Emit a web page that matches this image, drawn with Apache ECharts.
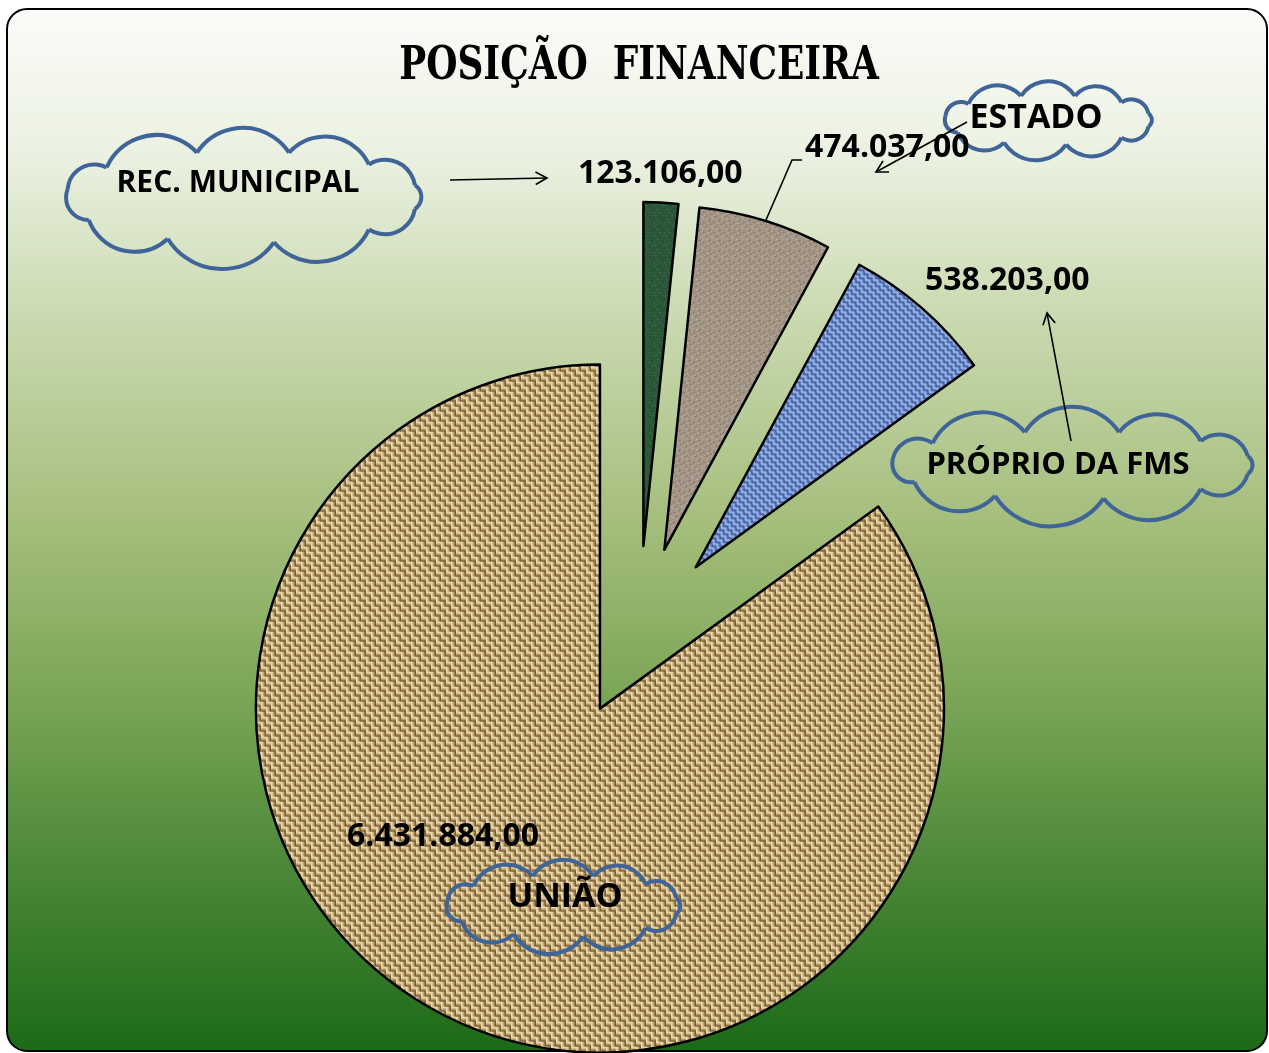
<!DOCTYPE html>
<html>
<head>
<meta charset="utf-8">
<title>Posição Financeira</title>
<script src="https://cdn.jsdelivr.net/npm/echarts@6/dist/echarts.min.js"></script>
<style>
  html, body { margin: 0; padding: 0; background: #fff; }
  #chart { width: 1269px; height: 1053px; }
</style>
</head>
<body>
<div id="chart"></div>
<script>
// dados do gráfico (ordem horária a partir do topo)
const categorias = ['REC. MUNICIPAL', 'ESTADO', 'PRÓPRIO DA FMS', 'UNIÃO'];
const valores = [123106, 474037, 538203, 6431884];
const titulo = 'POSIÇÃO  FINANCEIRA';

// formata no padrão brasileiro: 6.431.884,00
function formatBR(v) {
  const inteiro = String(Math.floor(v)).replace(/\B(?=(\d{3})+(?!\d))/g, '.');
  return inteiro + ',00';
}

// texturas das fatias (desenhadas num canvas pequeno e repetidas)
function tile(size, draw) {
  const c = document.createElement('canvas');
  c.width = c.height = size;
  draw(c.getContext('2d'));
  return c;
}

// trama de tecido: células alternando fios horizontais e verticais
function weave(size, cols) {
  return tile(size * 2, (ctx) => {
    for (let i = 0; i < 2; i++) {
      for (let j = 0; j < 2; j++) {
        const x0 = i * size, y0 = j * size;
        const horiz = (i + j) % 2 === 0;
        for (let k = 0; k < size; k++) {
          ctx.fillStyle = cols[k];
          if (horiz) ctx.fillRect(x0, y0 + k, size, 1);
          else ctx.fillRect(x0 + k, y0, 1, size);
        }
      }
    }
  });
}

function speckle(base, dots) {
  return tile(10, (ctx) => {
    ctx.fillStyle = base;
    ctx.fillRect(0, 0, 10, 10);
    dots.forEach(([x, y, c]) => {
      ctx.fillStyle = c;
      ctx.fillRect(x, y, 1, 1);
    });
  });
}

const texUniao = weave(5, ['#ecdaae', '#dcc694', '#c4a976', '#9c8152', '#735a34']);
const texProprio = weave(4, ['#a3bcec', '#809fdb', '#5f7fc0', '#3a5793']);
const texEstado = speckle('#a39585', [
  [1, 1, '#d4cabd'], [4, 2, '#675b4f'], [7, 0, '#cfc4b6'], [8, 4, '#5a5047'],
  [2, 5, '#d8cec2'], [5, 6, '#6d6257'], [0, 8, '#62574d'], [6, 8, '#d2c8bb'],
  [9, 7, '#cbc0b2'], [3, 3, '#887b6e'], [6, 3, '#c2b7a9'], [1, 7, '#877a6d']
]);
const texMunicipal = speckle('#2a5738', [
  [1, 1, '#4d7d58'], [5, 2, '#1a3b25'], [8, 1, '#46745a'], [3, 5, '#52835e'],
  [7, 6, '#1d3e27'], [0, 8, '#3f6e4d'], [5, 8, '#50805c'], [9, 4, '#21432c']
]);
const texturas = [texMunicipal, texEstado, texProprio, texUniao];

// nuvem: arcos salientes ao redor de uma elipse
const bumps = [-170, -140, -105, -75, -45, -15, 15, 45, 80, 115, 150];

function cloud(cx, cy, rx, ry) {
  const pts = bumps.map((a) => {
    const t = (a * Math.PI) / 180;
    return [cx + rx * Math.cos(t), cy + ry * Math.sin(t)];
  });
  const arcs = [];
  for (let i = 0; i < pts.length; i++) {
    const q = pts[i];
    const p = pts[(i + 1) % pts.length];
    const c = Math.hypot(p[0] - q[0], p[1] - q[1]);
    const r = c * 0.6;
    const h = Math.sqrt(r * r - (c / 2) * (c / 2));
    const mx = (p[0] + q[0]) / 2, my = (p[1] + q[1]) / 2;
    // normal apontando para dentro da elipse
    let nx = -(p[1] - q[1]) / c, ny = (p[0] - q[0]) / c;
    if ((cx - mx) * nx + (cy - my) * ny < 0) { nx = -nx; ny = -ny; }
    const ox = mx + nx * h, oy = my + ny * h;
    arcs.push({
      type: 'arc', z: 100,
      shape: {
        cx: ox, cy: oy, r,
        startAngle: Math.atan2(q[1] - oy, q[0] - ox),
        endAngle: Math.atan2(p[1] - oy, p[0] - ox),
        clockwise: true
      },
      style: { fill: null, stroke: '#3f6598', lineWidth: 4 }
    });
  }
  return arcs;
}

function arrow(x1, y1, x2, y2) {
  const a = Math.atan2(y2 - y1, x2 - x1);
  const h = 13, s = 0.5;
  return [
    { type: 'line', z: 100, shape: { x1, y1, x2, y2 }, style: { stroke: '#000', lineWidth: 1.6 } },
    {
      type: 'polyline', z: 100,
      shape: { points: [
        [x2 - h * Math.cos(a - s), y2 - h * Math.sin(a - s)],
        [x2, y2],
        [x2 - h * Math.cos(a + s), y2 - h * Math.sin(a + s)]
      ] },
      style: { stroke: '#000', lineWidth: 1.6, fill: null }
    }
  ];
}

function label(text, x, y, size, align) {
  return {
    type: 'text', z: 101, x, y,
    style: {
      text, fill: '#000', font: 'bold ' + size + 'px "Open Sans", sans-serif',
      align: align || 'left', verticalAlign: 'middle',
      textAlign: align || 'left', textVerticalAlign: 'middle'
    }
  };
}

const chart = echarts.init(document.getElementById('chart'));

const option = {
  animation: false,
  backgroundColor: '#ffffff',
  graphic: [
    {
      type: 'rect', z: -1,
      shape: { x: 7, y: 9, width: 1260, height: 1042, r: 20 },
      style: {
        stroke: '#000', lineWidth: 2,
        fill: new echarts.graphic.LinearGradient(0, 0, 0, 1, [
          { offset: 0, color: '#fbfcf9' },
          { offset: 0.14, color: '#ebf1e1' },
          { offset: 0.28, color: '#cddcb5' },
          { offset: 0.5, color: '#a3bd7a' },
          { offset: 0.66, color: '#7ba556' },
          { offset: 0.81, color: '#4f8a3b' },
          { offset: 1, color: '#1c6a18' }
        ])
      }
    },
    {
      type: 'text', z: 101, x: 639, y: 67, scaleX: 0.78,
      style: {
        text: titulo, fill: '#000',
        font: 'bold 46px "DejaVu Serif", serif',
        align: 'center', verticalAlign: 'middle',
        textAlign: 'center', textVerticalAlign: 'middle'
      }
    },
    ...cloud(243, 197, 178, 46),
    ...cloud(1048, 120, 104, 25),
    ...cloud(1072, 465, 182, 34),
    ...cloud(563, 906, 117, 31),
    ...arrow(450, 180, 547, 178),
    ...arrow(967, 122, 876, 172),
    ...arrow(1071, 441, 1047, 313),
    {
      type: 'polyline', z: 100,
      shape: { points: [[766, 220], [792, 160], [802, 160]] },
      style: { stroke: '#000', lineWidth: 1.6, fill: null }
    },
    label(categorias[0], 238, 183, 30, 'center'),
    label(categorias[1], 1036, 118, 34, 'center'),
    label(categorias[2], 1058, 465, 31, 'center'),
    label(categorias[3], 565, 897, 34, 'center'),
    label(formatBR(valores[0]), 578, 174, 32),
    label(formatBR(valores[1]), 805, 148, 32),
    label(formatBR(valores[2]), 925, 281, 32),
    label(formatBR(valores[3]), 347, 837, 32)
  ],
  series: [
    {
      type: 'pie',
      center: [639, 632],
      radius: 344,
      startAngle: 90,
      clockwise: true,
      selectedMode: 'multiple',
      selectedOffset: 86,
      avoidLabelOverlap: false,
      label: { show: false },
      labelLine: { show: false },
      emphasis: { disabled: true },
      itemStyle: { borderColor: '#000', borderWidth: 2.5 },
      data: categorias.map((name, i) => ({
        name,
        value: valores[i],
        selected: true,
        itemStyle: { color: { image: texturas[i], repeat: 'repeat' } }
      }))
    }
  ]
};

chart.setOption(option);
</script>
</body>
</html>
